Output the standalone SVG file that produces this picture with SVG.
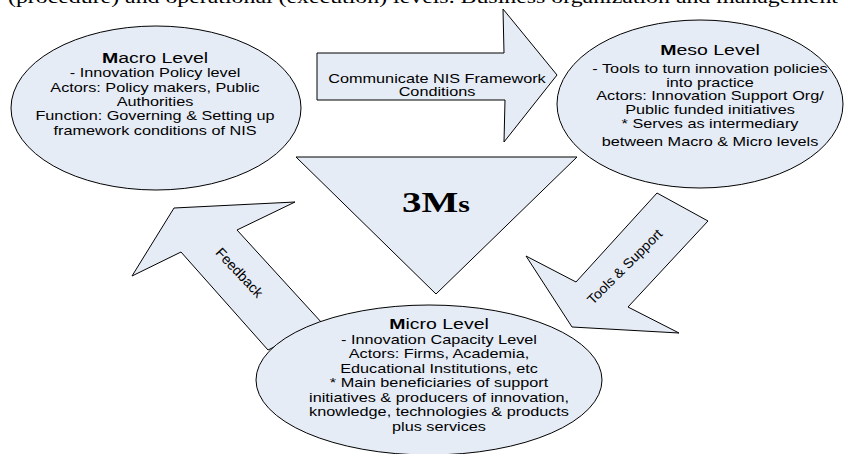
<svg xmlns="http://www.w3.org/2000/svg" width="844" height="454" viewBox="0 0 844 454">
  <style>
    .shape { fill: #e6ecf6; stroke: #000; stroke-width: 1; }
    .body { font-family: "Liberation Sans", Arial, sans-serif; font-size: 12.5px; fill: #000; text-anchor: middle; }
    .title { font-size: 15px; }
    .lbl { font-family: "Liberation Sans", Arial, sans-serif; fill: #000; text-anchor: middle; }
    .serif { font-family: "Liberation Serif", "Times New Roman", serif; fill: #000; }
  </style>
  <rect width="844" height="454" fill="#fff"/>

  <!-- running text of the page, cut by the top edge -->
  <text class="serif" x="8" y="3" font-size="18" textLength="830" lengthAdjust="spacingAndGlyphs">(procedure) and operational (execution) levels. Business organization and management</text>

  <!-- connectors -->
  <g id="connectors">
    <!-- Communicate NIS Framework Conditions -->
    <g id="arrow-communicate">
      <polygon class="shape" points="317,53 504,53 503,9 557,75 504,142 505,100 317,100"/>
      <g transform="translate(437,0) scale(1.3,1)">
        <text class="body" x="0" y="83">Communicate NIS Framework</text>
        <text class="body" x="0" y="96">Conditions</text>
      </g>
    </g>
    <!-- Tools & Support -->
    <g id="arrow-tools">
      <polygon class="shape" points="657,193 708,221 628,307 679,333 572,327 526,256 576,282"/>
      <text class="lbl" font-size="13.5" transform="translate(628,270) rotate(-45)" textLength="100" lengthAdjust="spacingAndGlyphs">Tools &amp; Support</text>
    </g>
    <!-- Feedback -->
    <g id="arrow-feedback">
      <polygon class="shape" points="268,350 322,323 237,230 295,202 174,208 132,276 181,252"/>
      <text class="lbl" font-size="14" transform="translate(236,276) rotate(47)" textLength="62" lengthAdjust="spacingAndGlyphs">Feedback</text>
    </g>
  </g>

  <!-- centre triangle -->
  <g id="three-ms">
    <polygon class="shape" points="296,157 577,157 436,294"/>
    <g transform="translate(402,212) scale(1.3,1)">
      <text class="serif" x="0" y="0" font-weight="bold" font-size="30">3M<tspan font-size="23">s</tspan></text>
    </g>
  </g>

  <!-- Macro level -->
  <g id="macro">
    <ellipse class="shape" cx="156" cy="108" rx="145" ry="82"/>
    <g transform="translate(155,0) scale(1.3,1)">
      <text class="body title" x="0" y="63"><tspan font-weight="bold">M</tspan>acro Level</text>
      <text class="body" x="0" y="77">- Innovation Policy level</text>
      <text class="body" x="0" y="92">Actors: Policy makers, Public</text>
      <text class="body" x="0" y="106">Authorities</text>
      <text class="body" x="0" y="120">Function: Governing &amp; Setting up</text>
      <text class="body" x="0" y="135">framework conditions of NIS</text>
    </g>
  </g>

  <!-- Meso level -->
  <g id="meso">
    <ellipse class="shape" cx="700" cy="104" rx="143" ry="84"/>
    <g transform="translate(710,0) scale(1.3,1)">
      <text class="body title" x="0" y="55"><tspan font-weight="bold">M</tspan>eso Level</text>
      <text class="body" x="0" y="73">- Tools to turn innovation policies</text>
      <text class="body" x="0" y="87">into practice</text>
      <text class="body" x="0" y="100">Actors: Innovation Support Org/</text>
      <text class="body" x="0" y="114">Public funded initiatives</text>
      <text class="body" x="0" y="128">* Serves as intermediary</text>
      <text class="body" x="0" y="146">between Macro &amp; Micro levels</text>
    </g>
  </g>

  <!-- Micro level -->
  <g id="micro">
    <ellipse class="shape" cx="429" cy="380" rx="173" ry="75"/>
    <g transform="translate(439,0) scale(1.3,1)">
      <text class="body title" x="0" y="329"><tspan font-weight="bold">M</tspan>icro Level</text>
      <text class="body" x="0" y="344">- Innovation Capacity Level</text>
      <text class="body" x="0" y="358">Actors: Firms, Academia,</text>
      <text class="body" x="0" y="373">Educational Institutions, etc</text>
      <text class="body" x="0" y="387">* Main beneficiaries of support</text>
      <text class="body" x="0" y="402">initiatives &amp; producers of innovation,</text>
      <text class="body" x="0" y="416">knowledge, technologies &amp; products</text>
      <text class="body" x="0" y="431">plus services</text>
    </g>
  </g>
</svg>
